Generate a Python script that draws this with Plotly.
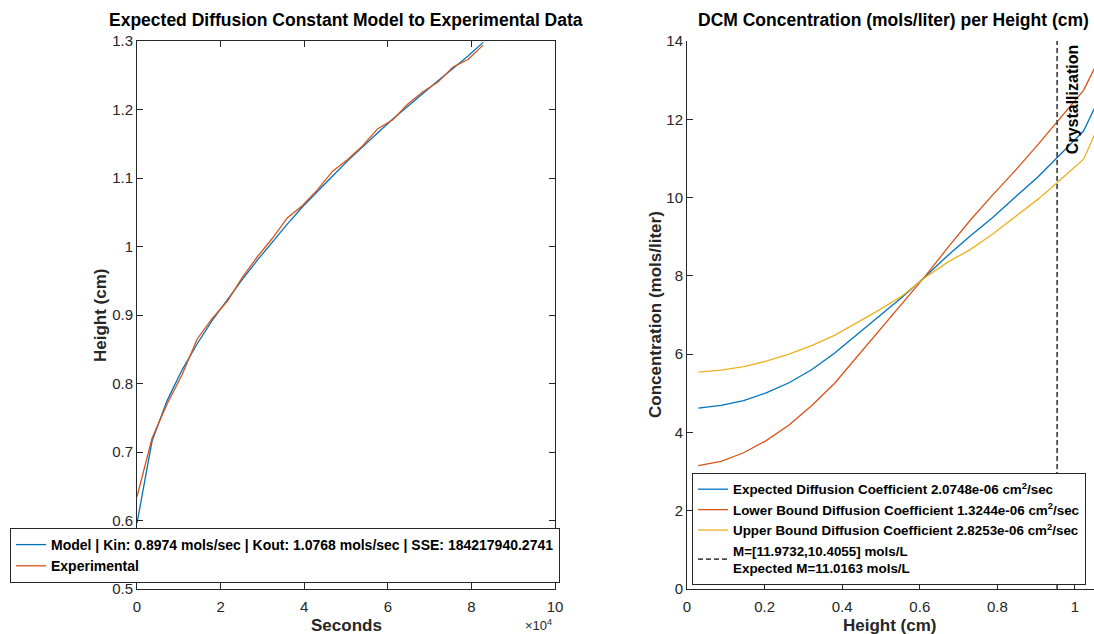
import plotly.graph_objects as go

# ---- left panel: rise height vs. time ----
seconds = [0, 3600, 7200, 10800, 14400, 18000, 21600, 25200, 28800, 32400,
           36000, 39600, 43200, 46800, 50400, 54000, 57600, 61200, 64800,
           68400, 72000, 75600, 79200, 82800]
height_model = [0.596, 0.716, 0.775, 0.820, 0.858, 0.892, 0.922, 0.952, 0.980,
                1.007, 1.033, 1.058, 1.081, 1.103, 1.125, 1.146, 1.166, 1.186,
                1.205, 1.224, 1.242, 1.260, 1.278, 1.298]
height_exp = [0.635, 0.720, 0.770, 0.813, 0.865, 0.895, 0.920, 0.955, 0.985,
              1.012, 1.042, 1.060, 1.083, 1.110, 1.127, 1.147, 1.172, 1.185,
              1.208, 1.226, 1.240, 1.262, 1.273, 1.294]
left_xticks = [0, 20000, 40000, 60000, 80000, 100000]
left_xtick_labels = ["0", "2", "4", "6", "8", "10"]
left_yticks = [0.5, 0.6, 0.7, 0.8, 0.9, 1.0, 1.1, 1.2, 1.3]
left_ytick_labels = ["0.5", "0.6", "0.7", "0.8", "0.9", "1", "1.1", "1.2", "1.3"]

# ---- right panel: concentration profile vs. height ----
height_cm = [0.029, 0.088, 0.146, 0.204, 0.263, 0.321, 0.380, 0.438, 0.496,
             0.555, 0.613, 0.672, 0.730, 0.788, 0.847, 0.905, 0.964, 1.022, 1.080]
conc_expected = [4.62, 4.69, 4.81, 5.01, 5.27, 5.60, 6.02, 6.50, 6.98, 7.46,
                 7.97, 8.52, 9.02, 9.49, 10.02, 10.53, 11.12, 11.70, 12.90]
conc_lower = [3.15, 3.26, 3.48, 3.79, 4.19, 4.68, 5.25, 5.93, 6.61, 7.28,
              7.98, 8.72, 9.42, 10.07, 10.70, 11.36, 12.06, 12.74, 13.90]
conc_upper = [5.54, 5.59, 5.68, 5.82, 6.00, 6.22, 6.48, 6.80, 7.13, 7.49,
              7.95, 8.35, 8.67, 9.07, 9.53, 9.96, 10.47, 10.98, 12.25]
crystallization_height = 0.954
right_xticks = [0, 0.2, 0.4, 0.6, 0.8, 1.0]
right_xtick_labels = ["0", "0.2", "0.4", "0.6", "0.8", "1"]
right_yticks = [0, 2, 4, 6, 8, 10, 12, 14]
right_ytick_labels = ["0", "2", "4", "6", "8", "10", "12", "14"]

BLUE = "#0072BD"
ORANGE = "#D95319"
YELLOW = "#EDB120"
AXIS = "#262626"
FONT = "Liberation Sans, Arial, sans-serif"

W, H = 1094, 634

fig = go.Figure()

fig.add_trace(go.Scatter(
    x=seconds, y=height_model, mode="lines", xaxis="x", yaxis="y",
    line=dict(color=BLUE, width=1.3), legend="legend",
    name="Model | Kin: 0.8974 mols/sec | Kout: 1.0768 mols/sec | SSE: 184217940.2741"))
fig.add_trace(go.Scatter(
    x=seconds, y=height_exp, mode="lines", xaxis="x", yaxis="y",
    line=dict(color=ORANGE, width=1.3), legend="legend",
    name="Experimental"))

fig.add_trace(go.Scatter(
    x=height_cm, y=conc_expected, mode="lines", xaxis="x2", yaxis="y2",
    line=dict(color=BLUE, width=1.3), legend="legend2",
    name="Expected Diffusion Coefficient 2.0748e-06 cm<sup>2</sup>/sec"))
fig.add_trace(go.Scatter(
    x=height_cm, y=conc_lower, mode="lines", xaxis="x2", yaxis="y2",
    line=dict(color=ORANGE, width=1.3), legend="legend2",
    name="Lower Bound Diffusion Coefficient 1.3244e-06 cm<sup>2</sup>/sec"))
fig.add_trace(go.Scatter(
    x=height_cm, y=conc_upper, mode="lines", xaxis="x2", yaxis="y2",
    line=dict(color=YELLOW, width=1.3), legend="legend2",
    name="Upper Bound Diffusion Coefficient 2.8253e-06 cm<sup>2</sup>/sec"))
fig.add_trace(go.Scatter(
    x=[crystallization_height, crystallization_height], y=[0, 14],
    mode="lines", xaxis="x2", yaxis="y2",
    line=dict(color="#4d4d4d", width=1.8, dash="5px,3px"), legend="legend2",
    name="M=[11.9732,10.4055] mols/L<br>Expected M=11.0163 mols/L"))

y_dom = [1 - 589 / H, 1 - 41 / H]
tick_font = dict(family=FONT, size=15, color=AXIS)
axis_common = dict(showgrid=False, zeroline=False, showline=True, linecolor=AXIS,
                   linewidth=1, ticks="inside", ticklen=6, tickcolor=AXIS,
                   tickfont=tick_font, automargin=False)

legend_common = dict(bgcolor="white", bordercolor=AXIS, borderwidth=1,
                     itemwidth=30, tracegroupgap=0, traceorder="normal",
                     xanchor="left", yanchor="bottom", xref="paper", yref="paper")

fig.update_layout(
    width=W, height=H,
    margin=dict(l=0, r=0, t=0, b=0, autoexpand=False),
    paper_bgcolor="white", plot_bgcolor="white",
    font=dict(family=FONT, color=AXIS),
    xaxis=dict(domain=[137 / W, 555 / W], range=[0, 100000], anchor="y",
               tickvals=left_xticks, ticktext=left_xtick_labels, mirror="ticks",
               ticklabelstandoff=4, **axis_common),
    yaxis=dict(domain=y_dom, range=[0.5, 1.3], anchor="x",
               tickvals=left_yticks, ticktext=left_ytick_labels, mirror="ticks",
               **axis_common),
    xaxis2=dict(domain=[687 / W, 1.0], range=[0, 1.049], anchor="y2",
                tickvals=right_xticks, ticktext=right_xtick_labels,
                ticklabelstandoff=4, **axis_common),
    yaxis2=dict(domain=y_dom, range=[0, 14], anchor="x2",
                tickvals=right_yticks, ticktext=right_ytick_labels,
                **axis_common),
    legend=dict(x=10 / W, y=1 - 583 / H,
                font=dict(family=FONT, size=14, color="black", weight="bold"),
                **legend_common),
    legend2=dict(x=692 / W, y=1 - 585 / H,
                 font=dict(family=FONT, size=13.4, color="black", weight="bold"),
                 **legend_common),
    showlegend=True,
)


def paper_text(text, px, py, size, angle=0, color="black", anchor="center"):
    fig.add_annotation(text=text, xref="paper", yref="paper", x=px / W, y=1 - py / H,
                       xanchor=anchor, yanchor="middle", showarrow=False,
                       textangle=angle, font=dict(family=FONT, size=size, color=color))


# panel titles
paper_text("<b>Expected Diffusion Constant Model to Experimental Data</b>", 346, 20, 17.5)
paper_text("<b>DCM Concentration (mols/liter) per Height (cm)</b>", 893, 20, 17.5)
# axis titles
paper_text("<b>Seconds</b>", 346, 625, 17, color=AXIS)
paper_text("<b>Height (cm)</b>", 100, 315, 17, angle=-90, color=AXIS)
paper_text("<b>Height (cm)</b>", 890, 625, 17, color=AXIS)
paper_text("<b>Concentration (mols/liter)</b>", 655, 315, 17, angle=-90, color=AXIS)
# exponent of the time axis
paper_text("×10<sup>4</sup>", 538, 625, 13, color=AXIS)

fig.add_annotation(text="<b>Crystallization</b>", xref="x2", yref="y2",
                   x=crystallization_height, y=14, xanchor="left", yanchor="top",
                   xshift=5, yshift=-2, textangle=-90, showarrow=False,
                   font=dict(family=FONT, size=16, color="black"))

fig.write_html("out.html")
